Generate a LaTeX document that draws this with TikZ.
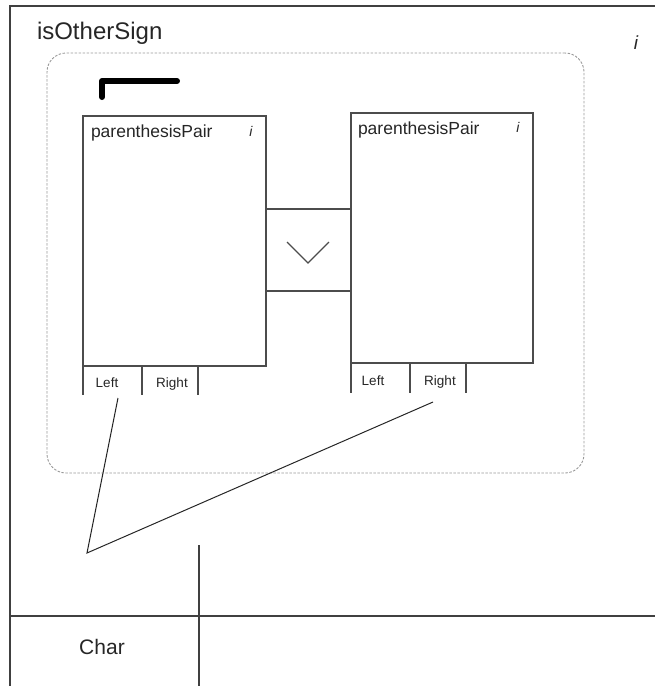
\documentclass[tikz,border=0pt]{standalone}
\usepackage{fontspec}
\setmainfont{Liberation Sans}
\begin{document}
\begin{tikzpicture}[x=1pt,y=-1pt,
  every node/.style={inner sep=0pt, outer sep=0pt, text=black!85},
  frameline/.style={draw=black!75, line width=1.4pt},
  boxline/.style={draw=black!70, line width=1.2pt},
  groupbox/.style={draw=black!40, dashed, dash pattern=on 2.5pt off 1.5pt, line width=0.9pt, rounded corners=19pt},
  compartment/.style={font=\fontsize{13.5}{15}\selectfont},
  boxtitle/.style={font=\fontsize{17.5}{20}\selectfont, anchor=base west},
  infomark/.style={font=\fontsize{14}{16}\selectfont\itshape},
  link/.style={draw=black!85, line width=1pt}]
\useasboundingbox (0,0) rectangle (655,686);

% outer frame (top and left edges) and the bottom row divider
\draw[frameline] (10,686) -- (10,6) -- (655,6);
\draw[frameline] (10,616) -- (655,616);
\draw[frameline] (199,545) -- (199,686);

\node[font=\fontsize{24}{28}\selectfont, anchor=base west] (title) at (37,39) {isOtherSign};
\node[infomark, font=\fontsize{19}{22}\selectfont\itshape] (info) at (636,43) {i};
\node[font=\fontsize{21}{24}\selectfont] (char) at (102,647) {Char};

% dashed group
\node[groupbox, anchor=north west, minimum width=537pt, minimum height=420pt] (group) at (47,53) {};

% bracket mark
\draw[line width=6pt, line cap=round, line join=round] (102,97) -- (102,81) -- (177,81);

% left box
\node[boxline, anchor=north west, minimum width=183pt, minimum height=250pt] (lbox) at (83,116) {};
\node[boxtitle] (ltitle) at (91,137) {parenthesisPair};
\node[infomark] (linfo) at (251,131) {i};
\draw[boxline] (lbox.south west) -- ++(0,29);
\draw[boxline] (142,366) -- (142,395);
\draw[boxline] (198,366) -- (198,395);
\node[compartment] (lleft) at (107,383) {Left};
\node[compartment] (lright) at (172,384) {Right};

% right box
\node[boxline, anchor=north west, minimum width=182pt, minimum height=250pt] (rbox) at (351,113) {};
\node[boxtitle] (rtitle) at (358,134) {parenthesisPair};
\node[infomark] (rinfo) at (518,127) {i};
\draw[boxline] (rbox.south west) -- ++(0,30);
\draw[boxline] (410,363) -- (410,393);
\draw[boxline] (466,363) -- (466,393);
\node[compartment] (rleft) at (373,381) {Left};
\node[compartment] (rright) at (440,382) {Right};

% choice connector between the boxes
\node[boxline, anchor=north west, minimum width=85pt, minimum height=82pt] (choice) at (266,209) {};
\draw[draw=black!70, line width=1.1pt] (287,242) -- (308,263) -- (329,242);

% links from the compartments
\coordinate (lend) at (118,398);
\coordinate (rend) at (433,402);
\coordinate (join) at (87,553);
\draw[link] (lend) -- (join) -- (rend);
\end{tikzpicture}
\end{document}
